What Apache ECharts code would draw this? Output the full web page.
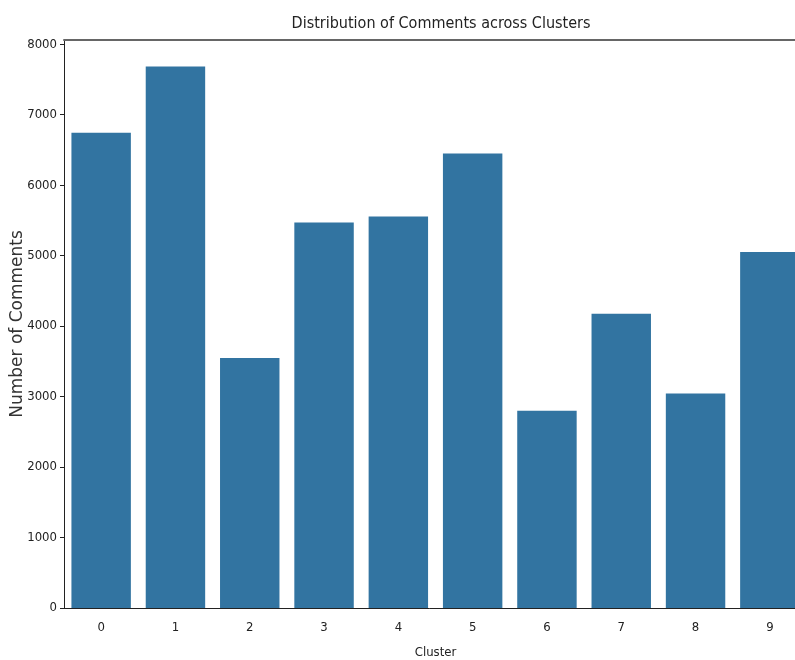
<!DOCTYPE html>
<html>
<head>
<meta charset="utf-8">
<script src="https://cdn.jsdelivr.net/npm/echarts@6/dist/echarts.min.js"></script>
<style>html,body{margin:0;padding:0;background:#fff;}#c{width:795px;height:660px;}</style>
</head>
<body>
<div id="c"></div>
<script>
const categories = ['0','1','2','3','4','5','6','7','8','9'];
const comments = [6745, 7685, 3546, 5471, 5556, 6449, 2799, 4175, 3045, 5050];
const yTicks = [0,1000,2000,3000,4000,5000,6000,7000,8000];

const FONT = "'DejaVu Sans Condensed', 'DejaVu Sans', sans-serif";
const chart = echarts.init(document.getElementById('c'), null, {renderer: 'canvas'});
chart.setOption({
  animation: false,
  backgroundColor: '#fff',
  textStyle: {fontFamily: FONT},
  title: {
    text: 'Distribution of Comments across Clusters',
    left: 436, top: 11, textAlign: 'center',
    textStyle: {fontFamily: FONT, fontSize: 16, fontWeight: 'normal', color: '#222'}
  },
  grid: {left: 64, top: 40, width: 743, bottom: 52, containLabel: false, outerBoundsMode: 'none'},
  xAxis: [{
    type: 'category',
    data: categories,
    name: 'Cluster',
    nameLocation: 'middle',
    nameGap: 38,
    nameTextStyle: {fontFamily: FONT, fontSize: 13, color: '#222'},
    axisLine: {lineStyle: {color: '#222', width: 1}},
    axisTick: {alignWithLabel: true, length: 4, lineStyle: {color: '#222'}},
    axisLabel: {fontFamily: FONT, fontSize: 13, color: '#222', margin: 13}
  }, {
    type: 'category',
    data: categories,
    position: 'top',
    axisLine: {show: true, lineStyle: {color: '#666', width: 2}},
    axisTick: {show: false},
    axisLabel: {show: false}
  }],
  yAxis: {
    type: 'value',
    min: 0, max: 8060,
    name: 'Number of Comments',
    nameLocation: 'middle',
    nameGap: 38,
    nameMoveOverlap: false,
    nameTextStyle: {fontFamily: "'DejaVu Sans', sans-serif", fontSize: 17, color: '#333'},
    axisLine: {show: true, lineStyle: {color: '#222', width: 1}},
    axisTick: {show: true, length: 4, lineStyle: {color: '#222'}, customValues: yTicks},
    axisLabel: {fontFamily: FONT, fontSize: 13, color: '#222', margin: 7, customValues: yTicks,
      formatter: v => String(v)},
    splitLine: {show: false}
  },
  series: [{
    type: 'bar',
    data: comments,
    barWidth: '80%',
    itemStyle: {color: '#3274a1'}
  }]
});
</script>
</body>
</html>
